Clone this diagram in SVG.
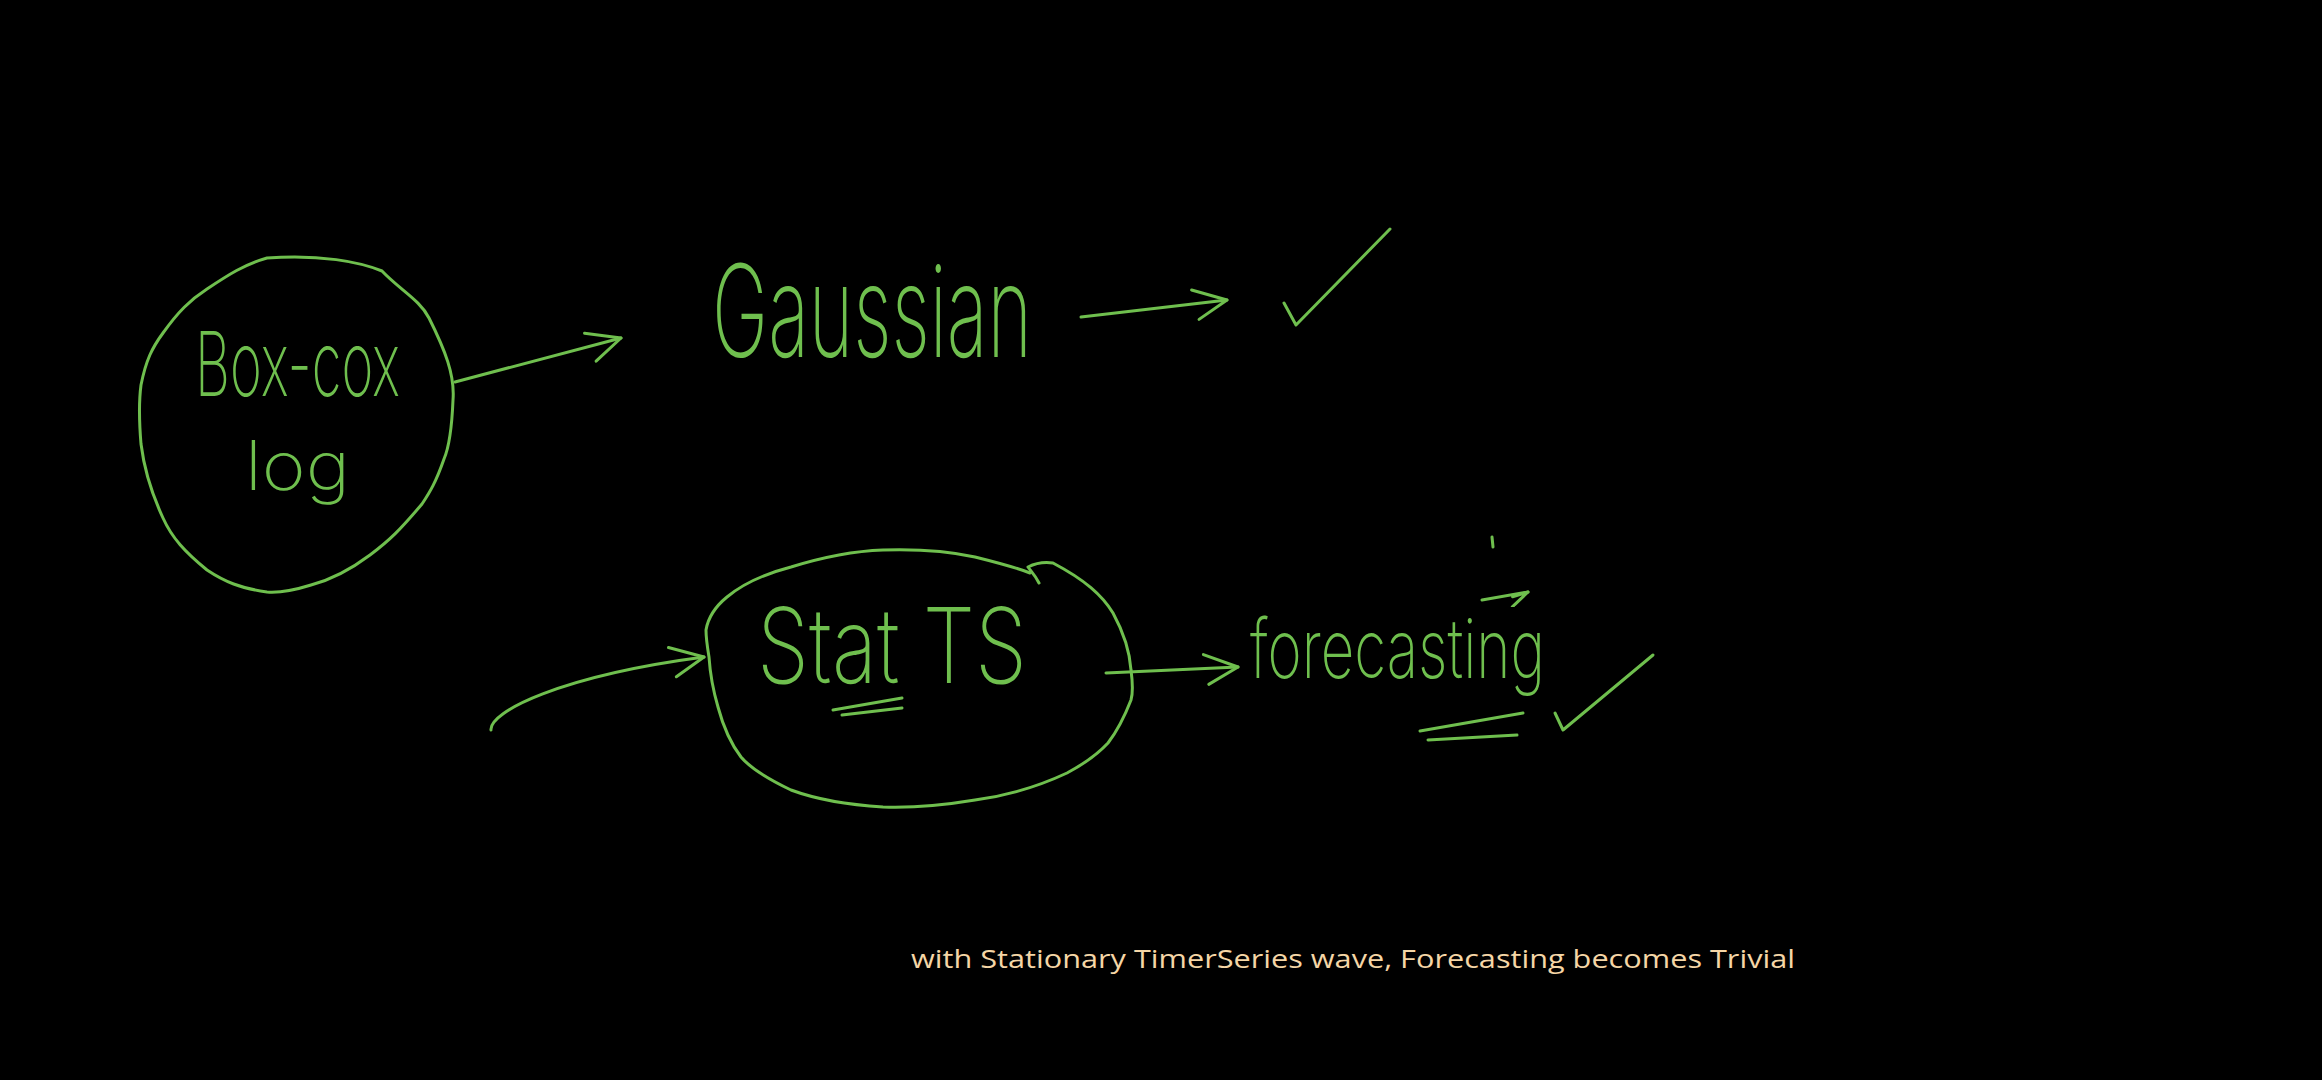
<svg xmlns="http://www.w3.org/2000/svg" width="2322" height="1080" viewBox="0 0 2322 1080">
<style>
.ink{fill:none;stroke:#6fbf4e;stroke-width:3;stroke-linecap:round;stroke-linejoin:round}
.hw{fill:#6fbf4e;font-family:Inter,"Open Sans","DejaVu Sans",sans-serif;font-weight:200}
.cap{fill:#f5d6a6;font-family:"Open Sans","DejaVu Sans",sans-serif;font-size:26px;font-weight:500}
</style>
<defs>
<marker id="head" viewBox="0 0 40 40" refX="38" refY="20" markerWidth="40" markerHeight="40" markerUnits="userSpaceOnUse" orient="auto">
<path d="M4,6 L38,20 L8,36" fill="none" stroke="#6fbf4e" stroke-width="3" stroke-linecap="round" stroke-linejoin="round"/>
</marker>
<marker id="head-s" viewBox="0 0 24 24" refX="22" refY="12" markerWidth="24" markerHeight="24" markerUnits="userSpaceOnUse" orient="auto">
<path d="M6,14 L22,12 L4,24" fill="none" stroke="#6fbf4e" stroke-width="3" stroke-linecap="round" stroke-linejoin="round"/>
</marker>
</defs>
<rect width="2322" height="1080" fill="#000"/>

<g id="boxcox">
<path class="ink" d="M267,258 C320,254 360,262 382,271 C400,290 420,300 429,318 C445,350 455,375 453,400 C452,425 450,445 444,459 C436,482 430,492 422,504 C400,530 390,540 370,555 C350,570 330,580 311,585 C295,590 280,593 267,592 C240,588 225,582 207,570 C185,552 172,538 163,518 C150,490 144,468 141,444 C139,420 139,400 141,385 C146,360 152,348 163,333 C178,312 190,300 207,289 C228,275 245,264 267,258 Z"/>
<text class="hw" x="195" y="396" font-size="90" textLength="205" lengthAdjust="spacingAndGlyphs">Box-cox</text>
<text class="hw" x="245" y="490" font-size="68" textLength="105" lengthAdjust="spacingAndGlyphs">log</text>
</g>

<g id="gaussian">
<text class="hw" x="712" y="357" font-size="128" textLength="320" lengthAdjust="spacingAndGlyphs">Gaussian</text>
</g>

<g id="check1">
<path class="ink" d="M1284,303 L1296,325 L1390,229"/>
</g>

<g id="stat-ts">
<path class="ink" d="M1039,583 C1035,575 1030,570 1028,567 C1038,562 1046,562 1053,563 C1085,580 1102,595 1113,613 C1125,635 1130,655 1131,670 C1133,685 1133,693 1131,700 C1124,718 1118,730 1108,743 C1095,757 1082,765 1067,773 C1035,788 1005,796 975,800 C945,805 912,808 883,807 C850,805 818,800 791,790 C770,780 752,770 741,757 C728,740 722,722 718,707 C713,690 710,672 709,657 C707,645 706,638 706,630 C708,618 716,606 727,597 C745,582 768,573 791,567 C820,558 855,551 883,550 C915,549 948,551 975,557 C995,562 1015,567 1030,573"/>
<text class="hw" x="757" y="683" font-size="104" textLength="270" lengthAdjust="spacingAndGlyphs">Stat TS</text>
<path class="ink" d="M833,710 L902,698 M842,715 L902,708"/>
</g>

<g id="forecasting">
<text class="hw" x="1250" y="678" font-size="82" textLength="295" lengthAdjust="spacingAndGlyphs">forecasting</text>
<path class="ink" d="M1492,537 L1493,547"/>
<path class="ink" d="M1420,731 L1523,713 M1428,740 L1517,735"/>
</g>

<g id="check2">
<path class="ink" d="M1555,713 L1563,730 L1653,655"/>
</g>

<g id="connectors">
<path class="ink" d="M455,382 L621,338" marker-end="url(#head)"/>
<path class="ink" d="M1081,317 L1227,300" marker-end="url(#head)"/>
<path class="ink" d="M491,730 C489,712 560,676 704,657" marker-end="url(#head)"/>
<path class="ink" d="M1106,673 L1238,667" marker-end="url(#head)"/>
<path class="ink" d="M1482,600 L1528,592" marker-end="url(#head-s)"/>
</g>

<g id="caption">
<text class="cap" x="911" y="968" textLength="884" lengthAdjust="spacingAndGlyphs">with Stationary TimerSeries wave, Forecasting becomes Trivial</text>
</g>
</svg>
